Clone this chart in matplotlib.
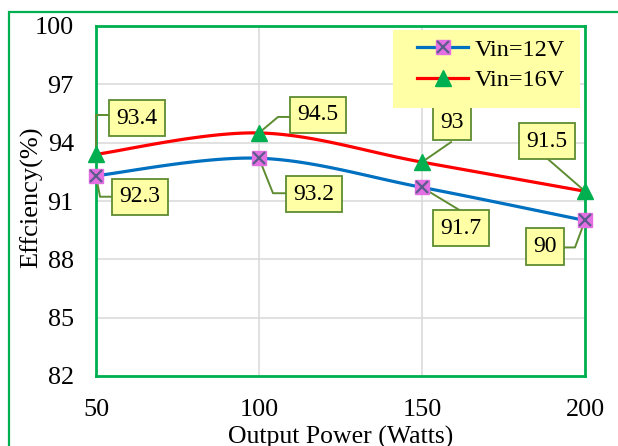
import numpy as np
import matplotlib
matplotlib.use("Agg")
import matplotlib.pyplot as plt
import matplotlib.transforms as mtransforms
from matplotlib.patches import Rectangle
from matplotlib.lines import Line2D

plt.rcParams['font.family'] = ['Liberation Serif', 'DejaVu Serif']

# ---- data ----
power = [50, 100, 150, 200]
eff_12v = [92.3, 93.2, 91.7, 90.0]
eff_16v = [93.4, 94.5, 93.0, 91.5]
series_names = ["Vin=12V", "Vin=16V"]
y_ticks = [82, 85, 88, 91, 94, 97, 100]
x_ticks = [50, 100, 150, 200]
x_label = "Output Power (Watts)"
y_label = "Effciency(%)"

# ---- style ----
BLUE = "#0070C0"
RED = "#FF0000"
GREEN = "#00B050"
MAGENTA = "#E36FE3"
XCOL = "#5B5B8C"
BOXFILL = "#FFFFA6"
BOXEDGE = "#5E8C31"


def smooth(xs, ys, n=40):
    xs = np.asarray(xs, float)
    ys = np.asarray(ys, float)
    P = np.column_stack([xs, ys])
    out = []
    for i in range(len(P) - 1):
        p0 = P[i - 1] if i > 0 else P[i]
        p1 = P[i]
        p2 = P[i + 1]
        p3 = P[i + 2] if i + 2 < len(P) else P[i + 1]
        c1 = p1 + (p2 - p0) / 6.0
        c2 = p2 - (p3 - p1) / 6.0
        t = np.linspace(0, 1, n)[:, None]
        seg = ((1 - t) ** 3) * p1 + 3 * ((1 - t) ** 2) * t * c1 + 3 * (1 - t) * t ** 2 * c2 + t ** 3 * p2
        out.append(seg if i == 0 else seg[1:])
    c = np.vstack(out)
    return c[:, 0], c[:, 1]


fig = plt.figure(figsize=(6.18, 4.46), dpi=100)
fig.patch.set_facecolor("white")

# outer green frame
fig.patches.append(Rectangle((9 / 618, -0.05), 1.2, 1 - 12 / 446 + 0.05,
                             transform=fig.transFigure, fill=False,
                             edgecolor=GREEN, linewidth=1.6, zorder=0))

ax = fig.add_axes([96 / 618, 1 - 376 / 446, (585 - 96) / 618, (376 - 26) / 446])
ax.set_xlim(50, 200)
ax.set_ylim(82, 100)
ax.set_xticks(x_ticks)
ax.set_yticks(y_ticks)
ax.set_xticklabels([str(v) for v in x_ticks])
ax.set_yticklabels([str(v) for v in y_ticks])
ax.tick_params(axis='both', length=0, labelsize=18.8)
ax.tick_params(axis='x', pad=16.5)
ax.tick_params(axis='y', pad=16)
ax.grid(True, color="#D9D9D9", linewidth=1.1)
ax.set_axisbelow(True)
for s in ax.spines.values():
    s.set_color(GREEN)
    s.set_linewidth(2.0)
ax.set_xlabel(x_label, fontsize=18.5, labelpad=3.5)
ax.set_ylabel(y_label, fontsize=19)
ax.yaxis.set_label_coords(-0.108, 0.51)

# curves
sx, sy = smooth(power, eff_12v)
ax.plot(sx, sy, color=BLUE, lw=2.3, zorder=3, solid_capstyle='round')
sx, sy = smooth(power, eff_16v)
ax.plot(sx, sy, color=RED, lw=2.3, zorder=3, solid_capstyle='round')

# markers
ax.plot(power, eff_12v, ls='none', marker='s', ms=10, mfc=MAGENTA, mec=MAGENTA, zorder=6, clip_on=False)
ax.plot(power, eff_12v, ls='none', marker='x', ms=9, mec=XCOL, mew=1.6, zorder=7, clip_on=False)
ax.plot(power, eff_16v, ls='none', marker='^', ms=11, mfc=GREEN, mec=GREEN, zorder=6, clip_on=False)

# data labels: (series, index, box offset px, leader polyline px)
labels_cfg = [
    (eff_16v, 0, (41, 36), [(0, 0), (0, 39), (13, 39)]),
    (eff_12v, 0, (44, -21), [(0, 0), (4, -21), (16, -21)]),
    (eff_16v, 1, (59, 18), [(0, 0), (19, 16), (30, 16)]),
    (eff_12v, 1, (55, -36), [(0, 0), (14, -35), (26, -35)]),
    (eff_16v, 2, (30, 40), [(0, 0), (29, 20)]),
    (eff_12v, 2, (39, -41), [(0, 0), (38, -23)]),
    (eff_16v, 3, (-38, 50), [(0, 0), (-38, 33)]),
    (eff_12v, 3, (-40, -26), [(0, 0), (-10, -27), (-21, -27)]),
]

for ser, i, (dx, dy), leader in labels_cfg:
    x, y = power[i], ser[i]
    txt = f"{ser[i]:g}"
    trans = mtransforms.IdentityTransform() + mtransforms.ScaledTranslation(x, y, ax.transData)
    lx = [p[0] for p in leader]
    ly = [p[1] for p in leader]
    ln = Line2D(lx, ly, color=BOXEDGE, lw=1.4, transform=trans, zorder=5, clip_on=False)
    ax.add_line(ln)
    ax.annotate(txt, xy=(x, y), xytext=(dx, dy), textcoords='offset pixels',
                ha='center', va='center', fontsize=17, zorder=8,
                bbox=dict(boxstyle='square,pad=0.32', fc=BOXFILL, ec=BOXEDGE, lw=1.3),
                annotation_clip=False)

# legend background box
ax.add_patch(Rectangle((0.607, 0.766), 0.383, 0.223, transform=ax.transAxes,
                       facecolor=BOXFILL, edgecolor='none', zorder=8))

# legend
h1 = (Line2D([], [], color=BLUE, lw=2.3),
      Line2D([], [], ls='none', marker='s', ms=10, mfc=MAGENTA, mec=MAGENTA),
      Line2D([], [], ls='none', marker='x', ms=9, mec=XCOL, mew=1.6))
h2 = (Line2D([], [], color=RED, lw=2.3),
      Line2D([], [], ls='none', marker='^', ms=11, mfc=GREEN, mec=GREEN))
leg = ax.legend([h1, h2], series_names, loc='center', bbox_to_anchor=(0.808, 0.889),
                fontsize=17.5, frameon=False, handlelength=2.1, handletextpad=0.25,
                labelspacing=0.35, borderpad=0.0)
leg.set_zorder(9)

fig.savefig("out.png", dpi=100, facecolor="white")
